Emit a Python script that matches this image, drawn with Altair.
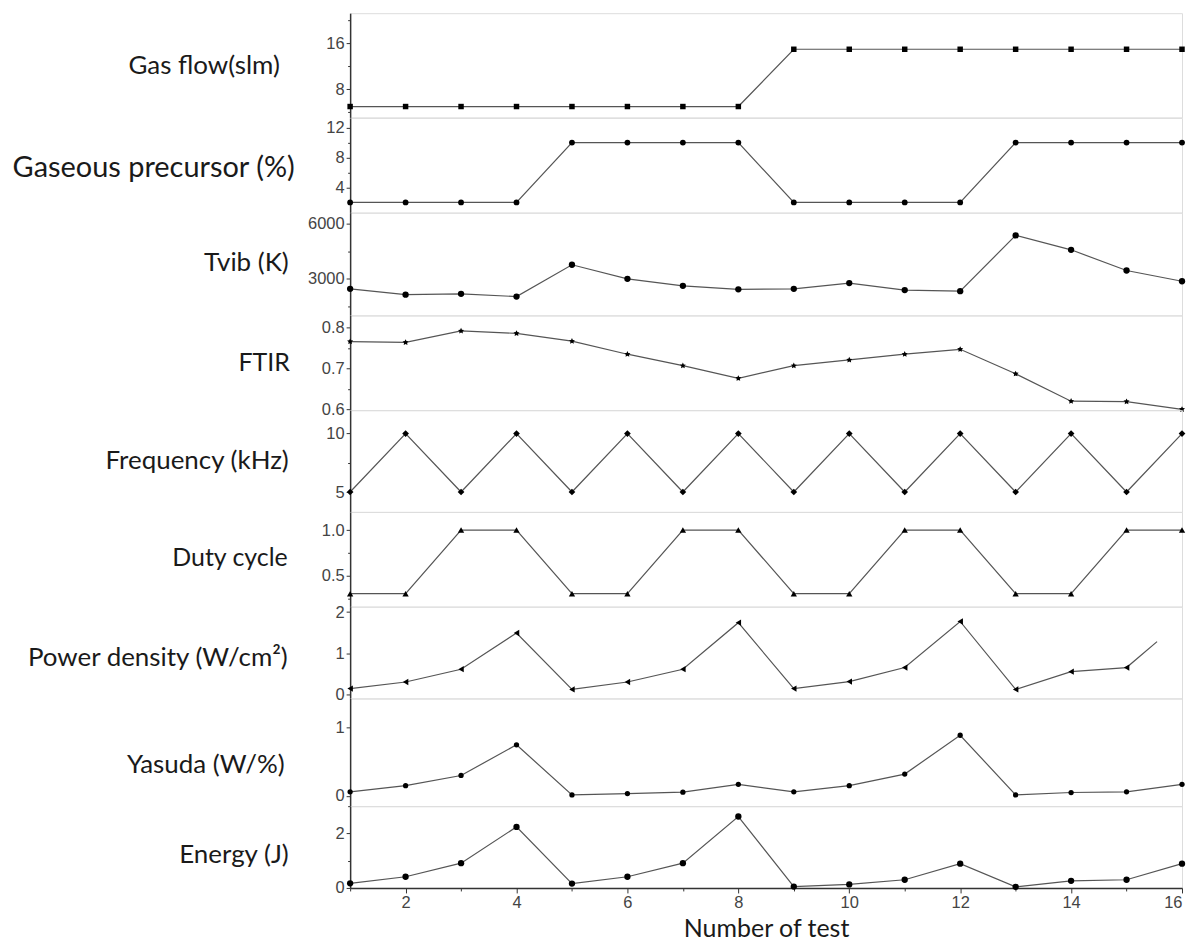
import altair as alt
import pandas as pd

tests = [1, 2, 3, 4, 5, 6, 7, 8, 9, 10, 11, 12, 13, 14, 15, 16]

gas_flow = [5, 5, 5, 5, 5, 5, 5, 5, 15, 15, 15, 15, 15, 15, 15, 15]
gaseous = [2, 2, 2, 2, 10, 10, 10, 10, 2, 2, 2, 2, 10, 10, 10, 10]
tvib = [2460, 2140, 2190, 2040, 3760, 3000, 2620, 2430, 2460, 2770, 2390, 2330, 5350, 4570, 3450, 2870]
ftir = [0.766, 0.764, 0.792, 0.786, 0.767, 0.735, 0.707, 0.676, 0.707, 0.721, 0.735, 0.747, 0.687, 0.620, 0.619, 0.600]
frequency = [5, 10, 5, 10, 5, 10, 5, 10, 5, 10, 5, 10, 5, 10, 5, 10]
duty = [0.3, 0.3, 1.0, 1.0, 0.3, 0.3, 1.0, 1.0, 0.3, 0.3, 1.0, 1.0, 0.3, 0.3, 1.0, 1.0]
power_x = [1, 2, 3, 4, 5, 6, 7, 8, 9, 10, 11, 12, 13, 14, 15, 15.55]
power = [0.14, 0.30, 0.61, 1.49, 0.12, 0.30, 0.61, 1.74, 0.14, 0.31, 0.65, 1.77, 0.12, 0.55, 0.65, 1.28]
yasuda = [0.06, 0.15, 0.30, 0.75, 0.015, 0.035, 0.055, 0.17, 0.06, 0.15, 0.32, 0.89, 0.015, 0.05, 0.06, 0.17]
energy = [0.17, 0.41, 0.91, 2.24, 0.16, 0.41, 0.91, 2.62, 0.05, 0.13, 0.30, 0.89, 0.04, 0.26, 0.30, 0.89]

x_ticks = [1, 2, 3, 4, 5, 6, 7, 8, 9, 10, 11, 12, 13, 14, 15, 16]

STAR = "M0,-1L0.29,-0.4L0.95,-0.31L0.48,0.15L0.59,0.81L0,0.5L-0.59,0.81L-0.48,0.15L-0.95,-0.31L-0.29,-0.4Z"

# name, x, y, shape, size, domain, major ticks, minor ticks, height, titleX, titleY, format, title size
panels_def = [
    ("Gas flow(slm)", tests, gas_flow, "square", 30, [3.1, 21.3], [8, 16], [4, 12, 20], 104.5, -71, 52.5, "d", 26),
    ("Gaseous precursor (%)", tests, gaseous, "circle", 34, [0.63, 13.3], [4, 8, 12], [2, 6, 10], 95, -56, 50, "d", 29),
    ("Tvib (K)", tests, tvib, "circle", 40, [1020, 6580], [3000, 6000], [1500, 4500], 103, -62, 50, "d", 26),
    ("FTIR", tests, ftir, STAR, 40, [0.598, 0.83], [0.6, 0.7, 0.8], [0.65, 0.75], 95, -61, 47, ".1f", 25),
    ("Frequency (kHz)", tests, frequency, "diamond", 45, [3.3, 12.0], [5, 10], [7.5], 102, -62, 50, "d", 26),
    ("Duty cycle", tests, duty, "triangle-up", 40, [0.157, 1.2], [0.5, 1.0], [0.25, 0.75], 95, -63, 46, ".1f", 25),
    ("Power density (W/cm²)", power_x, power, "triangle-left", 40, [-0.1, 2.13], [0, 1, 2], [0.5, 1.5], 92, -63, 51, "d", 26),
    ("Yasuda (W/%)", tests, yasuda, "circle", 28, [-0.15, 1.43], [0, 1], [0.5], 108, -66, 66, "d", 26),
    ("Energy (J)", tests, energy, "circle", 40, [0.0, 3.0], [0, 2], [1, 3], 82, -62, 48, "d", 26),
]

W = 834
LABEL_FONT = "Lato"
TICK_FONT = "Liberation Sans"


def make_panel(name, xs, ys, shape, size, domain, major, minor, height, tx, ty, fmt, tsize, bottom):
    df = pd.DataFrame({"x": xs, "y": ys})
    ticks = sorted(major + minor)
    major_js = "[" + ",".join(str(v) for v in major) + "]"
    is_major = f"indexof({major_js}, datum.value) >= 0"
    y_axis = alt.Axis(
        values=ticks,
        format=fmt,
        labelExpr=f"{is_major} ? datum.label : ''",
        tickSize={"condition": {"test": is_major, "value": 4}, "value": 2.5},
        grid=False,
        title=name,
        titleAngle=0,
        titleAlign="right",
        titleBaseline="middle",
        titleX=tx,
        titleY=ty,
        titleFont=LABEL_FONT,
        titleFontSize=tsize,
        titleFontWeight="normal",
        titleColor="#1a1a1a",
        labelFont=TICK_FONT,
        labelFontSize=16.5,
        labelColor="#444444",
        labelPadding=2,
        domainColor="#333333",
        domainWidth=1.5,
        tickColor="#333333",
    )
    if bottom:
        x_axis = alt.Axis(
            values=x_ticks,
            format="d",
            labelExpr="datum.value % 2 == 0 ? datum.label : ''",
            tickSize={"condition": {"test": "datum.value % 2 == 0", "value": 5}, "value": 3},
            grid=False,
            title="Number of test",
            titleFont=LABEL_FONT,
            titleFontSize=25,
            titleFontWeight="normal",
            titleColor="#1a1a1a",
            titlePadding=5,
            labelFont=TICK_FONT,
            labelFontSize=16.5,
            labelColor="#444444",
            labelPadding=2,
            domainColor="#333333",
            domainWidth=1.5,
            tickColor="#333333",
        )
    else:
        x_axis = None
    x_enc = alt.X("x:Q", scale=alt.Scale(domain=[1, 16], nice=False, zero=False), axis=x_axis)
    y_enc = alt.Y("y:Q", scale=alt.Scale(domain=domain, nice=False, zero=False), axis=y_axis)
    base = alt.Chart(df)
    line = base.mark_line(color="#555555", strokeWidth=1.2).encode(x=x_enc, y=y_enc)
    pts = (
        base.transform_filter("datum.x == floor(datum.x)")
        .mark_point(shape=shape, size=size, filled=True, color="#000000", opacity=1)
        .encode(x=x_enc, y=y_enc)
    )
    return alt.layer(line, pts).properties(width=W, height=height)


charts = []
for i, p in enumerate(panels_def):
    charts.append(make_panel(*p, bottom=(i == len(panels_def) - 1)))

chart = (
    alt.vconcat(*charts, spacing=0, bounds="flush")
    .properties(padding={"left": 2, "top": 3, "right": 0, "bottom": 0})
    .configure_view(stroke="#777777", strokeWidth=1.5)
    .configure(background="white")
)

chart.save("out.html", embed_options={"renderer": "svg", "actions": False})
